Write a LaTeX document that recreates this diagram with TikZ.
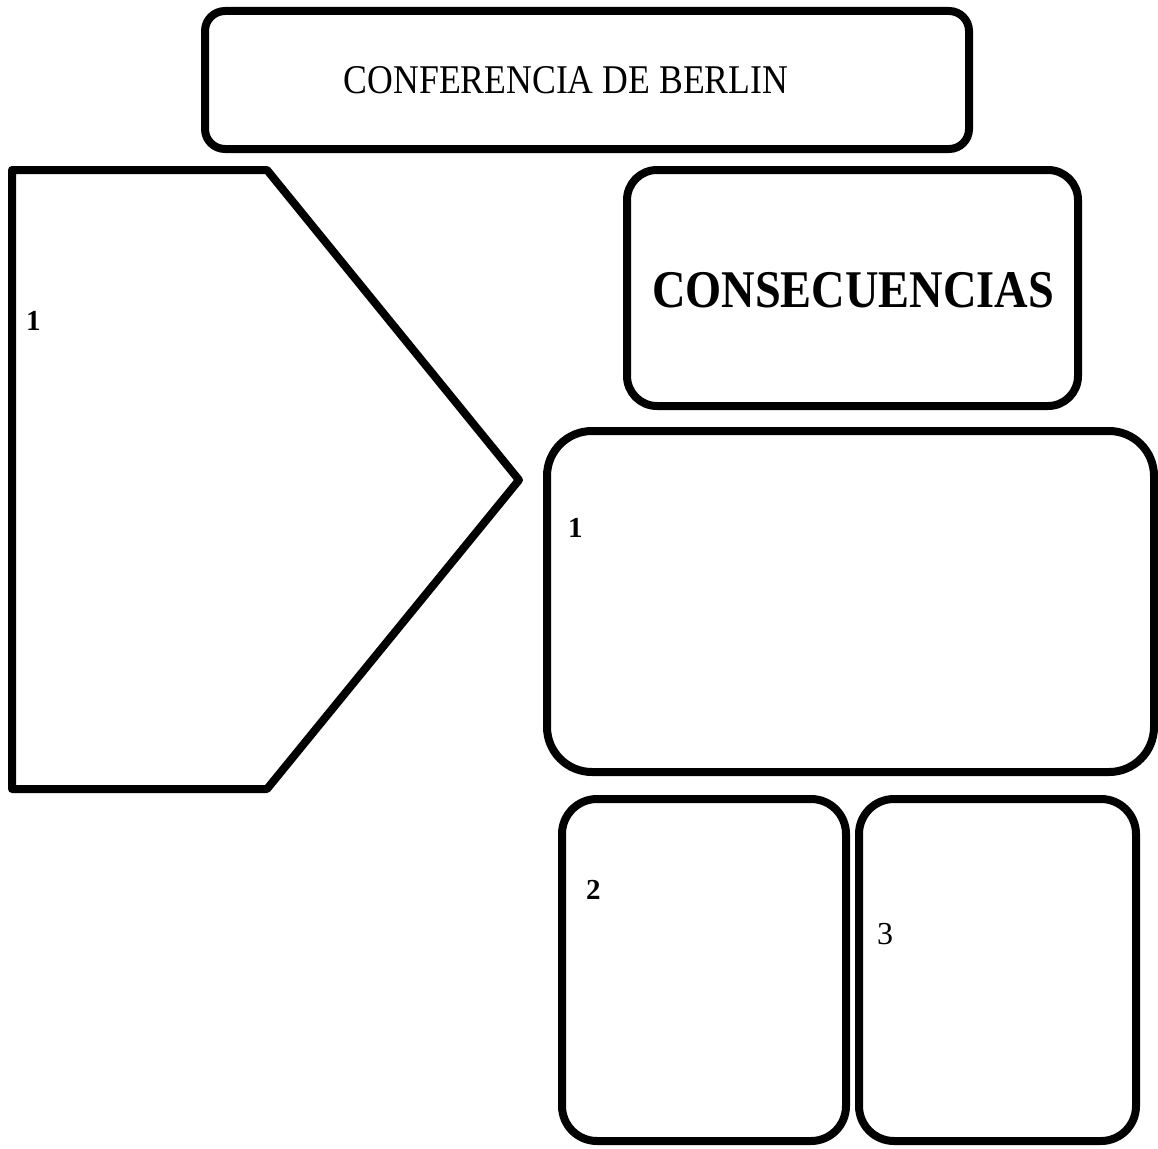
\documentclass[tikz,border=0pt]{standalone}
\usepackage{fontspec}
\setmainfont{Liberation Serif}
\usetikzlibrary{shadows}
\newcommand{\narrow}[1]{\scalebox{0.875}[1]{#1}}
\begin{document}
\begin{tikzpicture}[x=1pt,y=-1pt,line width=8pt,line join=round,
  shape box/.style={draw,fill=white,drop shadow={opacity=0.2,shadow xshift=2pt,shadow yshift=-3pt}},
  num text/.style={inner sep=0pt,anchor=west,font=\fontsize{29}{29}\selectfont}]
\useasboundingbox (0,0) rectangle (1158,1148);
% title
\draw[shape box,rounded corners=20pt] (205,11) rectangle (969,149);
\node (conferencia) [inner sep=0pt,font=\fontsize{40.8}{41}\selectfont] at (566,80) {\narrow{CONFERENCIA DE BERLIN}};
% left arrow shape
\draw[shape box] (12,170) -- (267,170) -- (519,480) -- (267,789) -- (12,789) -- cycle;
\node (causa1) [num text] at (22,321) {\bfseries 1};
% consequences
\draw[shape box,rounded corners=30pt] (627,170) rectangle (1078,406);
\node (consecuencias) [inner sep=0pt,font=\fontsize{53}{53}\selectfont\bfseries] at (853,290) {\narrow{CONSECUENCIAS}};
\draw[shape box,rounded corners=45pt] (547,431) rectangle (1154,772);
\node (conseq1) [num text] at (564,528) {\bfseries 1};
\draw[shape box,rounded corners=35pt] (562,799) rectangle (846,1141);
\node (conseq2) [num text] at (582,890) {\bfseries 2};
\draw[shape box,rounded corners=35pt] (859,799) rectangle (1136,1141);
\node (conseq3) [num text,font=\fontsize{32}{32}\selectfont] at (873,934) {3};
\end{tikzpicture}
\end{document}
